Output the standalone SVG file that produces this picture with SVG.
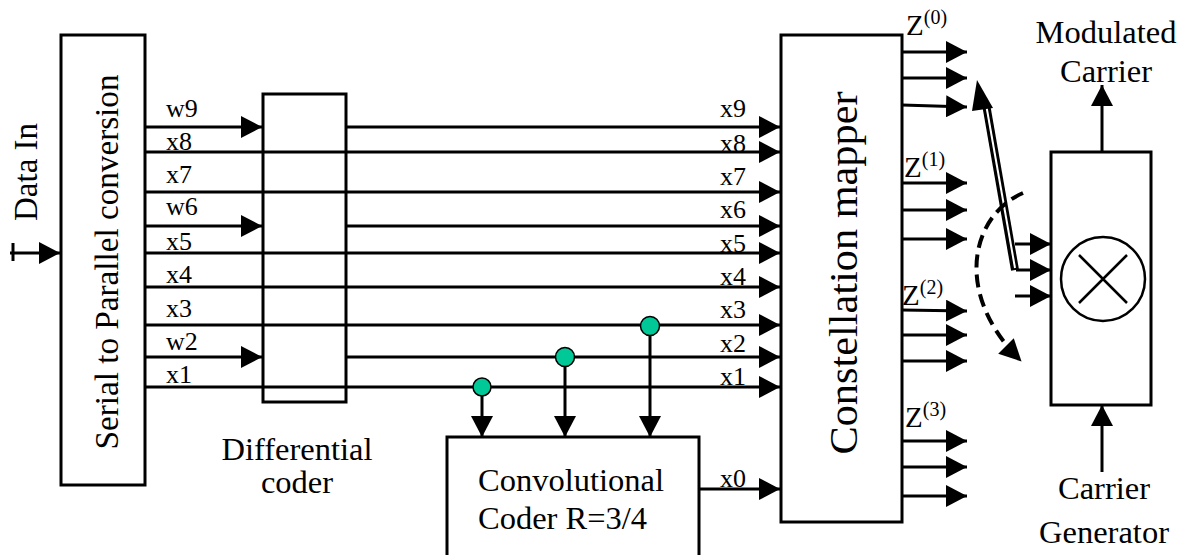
<svg xmlns="http://www.w3.org/2000/svg" width="1185" height="555" viewBox="0 0 1185 555">
<defs>
<style>
.box{fill:#fff;stroke:#000;stroke-width:3}
.ln{fill:none;stroke:#000;stroke-width:3}
.t{font-family:"Liberation Serif","Times New Roman",serif;fill:#000}
.lab{font-size:26px}
.big{font-size:32.5px}
.dot{fill:#00C896;stroke:#000;stroke-width:1.5}
</style>
<marker id="ah" viewBox="0 0 21 22" refX="21" refY="11" markerWidth="21" markerHeight="22" markerUnits="userSpaceOnUse" orient="auto">
<path d="M0,0 L21,11 L0,22 Z" fill="#000"/>
</marker>
<marker id="ahs" viewBox="0 0 20 20" refX="18" refY="10" markerWidth="22" markerHeight="22" markerUnits="userSpaceOnUse" orient="auto">
<path d="M0,0 L20,10 L0,20 Z" fill="#000"/>
</marker>
</defs>
<rect width="1185" height="555" fill="#fff"/>

<g id="sp">
<rect class="box" x="61" y="35" width="84" height="450"/>
<text class="t" font-size="33" text-anchor="middle" transform="translate(118,262) rotate(-90)" textLength="375" lengthAdjust="spacingAndGlyphs">Serial to Parallel conversion</text>
</g>
<g id="datain">
<text class="t" font-size="33" text-anchor="middle" transform="translate(37,172) rotate(-90)">Data In</text>
</g>
<g id="diff">
<rect class="box" x="263" y="94" width="83" height="308"/>
<text class="t big" x="297" y="460" text-anchor="middle">Differential</text>
<text class="t big" x="297" y="493" text-anchor="middle">coder</text>
</g>
<g id="mapper">
<rect class="box" x="781" y="35" width="121" height="487"/>
<text class="t" font-size="39" text-anchor="middle" transform="translate(857,273) rotate(-90)" textLength="363" lengthAdjust="spacingAndGlyphs">Constellation mapper</text>
</g>
<g id="conv">
<path class="box" d="M447,556 L447,437 L699,437 L699,556"/>
<text class="t big" x="478" y="491">Convolutional</text>
<text class="t big" x="478" y="529">Coder R=3/4</text>
</g>
<g id="mixer">
<rect class="box" x="1051" y="152" width="100" height="253"/>
<circle cx="1103" cy="279" r="42" fill="none" stroke="#000" stroke-width="2.5"/>
<path d="M1079,255 L1127,303 M1127,255 L1079,303" stroke="#000" stroke-width="2.5"/>
</g>
<g id="labels-out">
<text class="t big" x="1106" y="43" text-anchor="middle">Modulated</text>
<text class="t big" x="1106" y="82" text-anchor="middle">Carrier</text>
<text class="t big" x="1104" y="499" text-anchor="middle">Carrier</text>
<text class="t big" x="1104" y="543" text-anchor="middle">Generator</text>
</g>

<g id="connectors">
<path class="ln" d="M10,253 L60,253" marker-end="url(#ah)"/>
<path class="ln" d="M13,243 L13,261" stroke-width="2"/>
<path class="ln" d="M145,127 L262,127" marker-end="url(#ah)"/>
<path class="ln" d="M145,226 L262,226" marker-end="url(#ah)"/>
<path class="ln" d="M145,357 L262,357" marker-end="url(#ah)"/>
<path class="ln" d="M346,127 L780,127" marker-end="url(#ah)"/>
<path class="ln" d="M346,226 L780,226" marker-end="url(#ah)"/>
<path class="ln" d="M346,357 L780,357" marker-end="url(#ah)"/>
<path class="ln" d="M145,152 L780,152" marker-end="url(#ah)"/>
<path class="ln" d="M145,192 L780,192" marker-end="url(#ah)"/>
<path class="ln" d="M145,253 L780,253" marker-end="url(#ah)"/>
<path class="ln" d="M145,287 L780,287" marker-end="url(#ah)"/>
<path class="ln" d="M145,325 L780,325" marker-end="url(#ah)"/>
<path class="ln" d="M145,387 L780,387" marker-end="url(#ah)"/>
<path class="ln" d="M482,387 L482,437" marker-end="url(#ah)"/>
<path class="ln" d="M565,357 L565,437" marker-end="url(#ah)"/>
<path class="ln" d="M650,325 L650,437" marker-end="url(#ah)"/>
<circle class="dot" cx="482" cy="387" r="9"/>
<circle class="dot" cx="565" cy="357" r="9.5"/>
<circle class="dot" cx="650" cy="326" r="9.5"/>
<path class="ln" d="M699,489 L780,489" marker-end="url(#ah)"/>
<path class="ln" d="M902,52 L967,52" marker-end="url(#ah)"/>
<path class="ln" d="M902,78 L967,78" marker-end="url(#ah)"/>
<path class="ln" d="M902,105 L967,107" marker-end="url(#ah)"/>
<path class="ln" d="M902,183 L967,183" marker-end="url(#ah)"/>
<path class="ln" d="M902,210 L967,210" marker-end="url(#ah)"/>
<path class="ln" d="M902,239 L967,239" marker-end="url(#ah)"/>
<path class="ln" d="M902,310 L967,311" marker-end="url(#ah)"/>
<path class="ln" d="M902,335 L967,335" marker-end="url(#ah)"/>
<path class="ln" d="M902,361 L967,361" marker-end="url(#ah)"/>
<path class="ln" d="M902,441 L967,441" marker-end="url(#ah)"/>
<path class="ln" d="M902,467 L967,467" marker-end="url(#ah)"/>
<path class="ln" d="M902,496 L967,496" marker-end="url(#ah)"/>
<path class="ln" d="M1015,244 L1051,244" marker-end="url(#ah)"/>
<path class="ln" d="M1016,270 L1051,270" marker-end="url(#ah)"/>
<path class="ln" d="M1015,296 L1051,296" marker-end="url(#ah)"/>
<path d="M1015,270 L986,104" fill="none" stroke="#000" stroke-width="8"/>
<path d="M1015,268 L986,104" fill="none" stroke="#fff" stroke-width="2"/>
<path d="M977,80 L993,108 L972,111 Z" fill="#000"/>
<path d="M1023,193 C972,215 952,292 1020,360" fill="none" stroke="#000" stroke-width="4" stroke-dasharray="13,7" marker-end="url(#ahs)"/>
<path class="ln" d="M1102,152 L1102,85" marker-end="url(#ah)"/>
<path class="ln" d="M1102,472 L1102,405" marker-end="url(#ah)"/>
</g>

<g id="bit-labels" class="t lab">
<text x="166" y="117">w9</text>
<text x="166" y="150">x8</text>
<text x="166" y="183">x7</text>
<text x="166" y="215">w6</text>
<text x="166" y="250">x5</text>
<text x="166" y="283">x4</text>
<text x="166" y="317">x3</text>
<text x="166" y="350">w2</text>
<text x="166" y="383">x1</text>
<text x="720" y="117">x9</text>
<text x="720" y="152">x8</text>
<text x="720" y="185">x7</text>
<text x="720" y="218">x6</text>
<text x="720" y="252">x5</text>
<text x="720" y="285">x4</text>
<text x="720" y="318">x3</text>
<text x="720" y="352">x2</text>
<text x="720" y="385">x1</text>
<text x="720" y="487">x0</text>
</g>
<g id="z-labels" class="t">
<text x="906" y="35" font-size="29">Z<tspan font-size="20" dy="-11">(0)</tspan></text>
<text x="904" y="177" font-size="29">Z<tspan font-size="20" dy="-11">(1)</tspan></text>
<text x="902" y="305" font-size="29">Z<tspan font-size="20" dy="-11">(2)</tspan></text>
<text x="905" y="427" font-size="29">Z<tspan font-size="20" dy="-11">(3)</tspan></text>
</g>
</svg>
